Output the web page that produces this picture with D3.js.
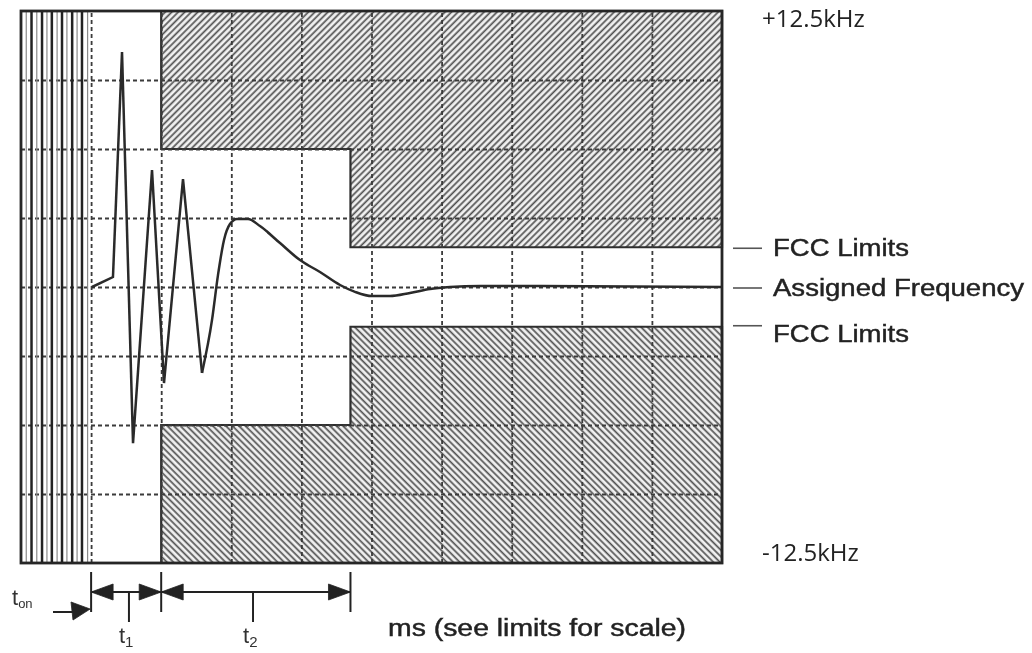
<!DOCTYPE html>
<html>
<head>
<meta charset="utf-8">
<script src="https://cdn.jsdelivr.net/npm/d3@7"></script>
<style>
  html, body { margin: 0; padding: 0; background: #fff; }
  svg { display: block; }
</style>
</head>
<body>
<svg id="chart" width="1032" height="653"></svg>
<script>
// Frequency transient of a transmitter at switch-on, against the FCC limit mask.
// Time in grid divisions (ms, see limits for scale); deviation in kHz.

const timeDivisions = [0, 10];
const freqRange = [-12.5, 12.5];

// dashed grid
const gridTimes = [1, 2, 3, 4, 5, 6, 7, 8, 9];
const gridFreqs = [-9.375, -6.25, -3.125, 0, 3.125, 6.25, 9.375];

// limit mask (step after each time)
const maskTimes = [2, 4.7, 10];
const maskUpper = [6.25, 1.8, 1.8];
const maskLower = [-6.25, -1.8, -1.8];

// switch-on interval (t_on) oscillation traces
const tonStrong = [0.15, 0.30, 0.44, 0.585, 0.73, 0.87];
const tonFaint = [0.075, 0.225, 0.37, 0.515, 0.655, 0.80, 0.95];

// oscillating burst (t1) and settling (t2)
const burstTimes = [1.013, 1.312, 1.441, 1.598, 1.869, 2.040, 2.311, 2.582];
const burstFreqs = [0, 0.45, 10.64, -7.07, 5.30, -4.35, 4.89, -3.89];
const settleTimes = [2.582, 2.725, 2.810, 2.896, 2.981, 3.081, 3.238, 3.409, 3.695, 3.980, 4.265, 4.551, 4.765, 5.007, 5.264, 5.549, 5.835, 6.120, 6.548, 7.118, 10];
const settleFreqs = [-3.89, -1.49, 0.54, 2.13, 2.85, 3.08, 3.08, 2.76, 1.99, 1.22, 0.68, 0.09, -0.22, -0.41, -0.41, -0.27, -0.09, 0, 0.05, 0.05, 0];

// interval markers under the plot
const intervalEdges = [1, 2, 4.7];
const intervalNames = ["1", "2"];

// labels
const scaleLabels = ["+12.5kHz", "-12.5kHz"];
const legendLabels = ["FCC Limits", "Assigned Frequency", "FCC Limits"];
const legendFreqs = [1.8, 0, -1.8];
const axisNote = "ms (see limits for scale)";

const svg = d3.select("#chart");
const x = d3.scaleLinear().domain(timeDivisions).range([21, 722]);
const y = d3.scaleLinear().domain(freqRange).range([563, 11]);

const defs = svg.append("defs");
defs.append("filter").attr("id", "soft")
  .append("feGaussianBlur").attr("stdDeviation", 0.45);

function hatch(id, angle) {
  const p = defs.append("pattern").attr("id", id)
    .attr("patternUnits", "userSpaceOnUse")
    .attr("width", 4.6).attr("height", 4.6)
    .attr("patternTransform", `rotate(${angle})`);
  p.append("rect").attr("width", 4.6).attr("height", 4.6).attr("fill", "#f2f2f2");
  p.append("line").attr("x1", 1.2).attr("x2", 1.2).attr("y1", -1).attr("y2", 6)
    .attr("stroke", "#505050").attr("stroke-width", 1.7);
}
hatch("hatchUp", 45);
hatch("hatchDown", -45);

const g = svg.append("g").attr("filter", "url(#soft)");

// limit mask regions
const maskPts = maskTimes.map((t, i) => ({ t, hi: maskUpper[i], lo: maskLower[i] }));
const upperArea = d3.area().curve(d3.curveStepAfter)
  .x(d => x(d.t)).y0(y(freqRange[1])).y1(d => y(d.hi));
const lowerArea = d3.area().curve(d3.curveStepAfter)
  .x(d => x(d.t)).y0(y(freqRange[0])).y1(d => y(d.lo));
g.append("path").attr("d", upperArea(maskPts))
  .attr("fill", "url(#hatchUp)").attr("stroke", "#2e2e2e").attr("stroke-width", 2.2);
g.append("path").attr("d", lowerArea(maskPts))
  .attr("fill", "url(#hatchDown)").attr("stroke", "#2e2e2e").attr("stroke-width", 2.2);

// dashed grid through the axes
const h = y.range()[0] - y.range()[1];
const w = x.range()[1] - x.range()[0];
const gx = g.append("g").attr("transform", `translate(0,${y(freqRange[0])})`)
  .call(d3.axisBottom(x).tickValues(gridTimes).tickSize(-h).tickFormat(""));
const gy = g.append("g").attr("transform", `translate(${x(timeDivisions[0])},0)`)
  .call(d3.axisLeft(y).tickValues(gridFreqs).tickSize(-w).tickFormat(""));
[gx, gy].forEach(a => {
  a.select(".domain").remove();
  a.selectAll(".tick line").attr("stroke", "#3a3a3a").attr("stroke-width", 1.8)
    .attr("stroke-dasharray", "4,3");
});

// t_on traces
g.selectAll("line.faint").data(tonFaint).join("line").attr("class", "faint")
  .attr("x1", d => x(d)).attr("x2", d => x(d))
  .attr("y1", y(freqRange[1])).attr("y2", y(freqRange[0]))
  .attr("stroke", "#8a8a8a").attr("stroke-width", 1.2);
g.selectAll("line.strong").data(tonStrong).join("line").attr("class", "strong")
  .attr("x1", d => x(d)).attr("x2", d => x(d))
  .attr("y1", y(freqRange[1])).attr("y2", y(freqRange[0]))
  .attr("stroke", "#222").attr("stroke-width", 2.5);

// frequency trace
const burst = burstTimes.map((t, i) => [t, burstFreqs[i]]);
const settle = settleTimes.map((t, i) => [t, settleFreqs[i]]);
g.append("path").attr("d", d3.line().x(d => x(d[0])).y(d => y(d[1]))(burst))
  .attr("fill", "none").attr("stroke", "#2a2a2a").attr("stroke-width", 2.5)
  .attr("stroke-linejoin", "miter");
g.append("path").attr("d", d3.line().curve(d3.curveMonotoneX).x(d => x(d[0])).y(d => y(d[1]))(settle))
  .attr("fill", "none").attr("stroke", "#2a2a2a").attr("stroke-width", 2.5);

// frame
g.append("rect").attr("x", x(0)).attr("y", y(freqRange[1]))
  .attr("width", w).attr("height", h)
  .attr("fill", "none").attr("stroke", "#262626").attr("stroke-width", 2.8);

const labelFont = "Liberation Sans, Arial, sans-serif";

// legend at the right edge
const legendTextDy = [9, 9, 15];
const legendDashDy = [1, 1, -1];
legendLabels.forEach((lab, i) => {
  const yy = y(legendFreqs[i]);
  g.append("line").attr("x1", 733).attr("x2", 762)
    .attr("y1", yy + legendDashDy[i]).attr("y2", yy + legendDashDy[i])
    .attr("stroke", "#555").attr("stroke-width", 1.6);
  g.append("text").attr("x", 773).attr("y", yy + legendTextDy[i])
    .attr("font-family", labelFont)
    .attr("font-size", 23.5).attr("fill", "#222")
    .attr("stroke", "#222").attr("stroke-width", 0.45)
    .attr("textLength", i === 1 ? 251 : 136).attr("lengthAdjust", "spacingAndGlyphs")
    .text(lab);
});

// interval markers
const ya = 592;
const mk = g.append("g").attr("stroke", "#222").attr("stroke-width", 2).attr("fill", "#222");
intervalEdges.forEach(t => {
  mk.append("line").attr("x1", x(t)).attr("x2", x(t)).attr("y1", 572).attr("y2", 612);
});
mk.append("line").attr("x1", x(intervalEdges[0])).attr("x2", x(intervalEdges[2]))
  .attr("y1", ya).attr("y2", ya);
function head(tip, dir) {
  const len = 22, hw = 8;
  mk.append("path").attr("stroke-width", 0.8)
    .attr("d", `M${tip},${ya} L${tip + dir * len},${ya - hw} L${tip + dir * len},${ya + hw} Z`);
}
head(x(intervalEdges[0]), 1);
head(x(intervalEdges[1]), -1);
head(x(intervalEdges[1]), 1);
head(x(intervalEdges[2]), -1);
const mids = [(intervalEdges[0] + intervalEdges[1]) / 2 + 0.04, (intervalEdges[1] + intervalEdges[2]) / 2 - 0.04];
mids.forEach(t => {
  mk.append("line").attr("x1", x(t)).attr("x2", x(t)).attr("y1", ya).attr("y2", 622);
});
// t_on pointer
mk.append("line").attr("x1", 53).attr("x2", 78).attr("y1", 612).attr("y2", 612);
mk.append("path").attr("stroke-width", 0.8)
  .attr("d", `M${x(intervalEdges[0]) - 1},609 L71,602 L73,620 Z`);

const ton = g.append("text").attr("x", 12).attr("y", 605)
  .attr("font-family", labelFont).attr("font-size", 22).attr("fill", "#333");
ton.append("tspan").text("t");
ton.append("tspan").attr("font-size", 13).attr("dy", 3).text("on");
mids.forEach((t, i) => {
  const tx = g.append("text").attr("x", x(t) - 10).attr("y", 643)
    .attr("font-family", labelFont).attr("font-size", 22).attr("fill", "#333");
  tx.append("tspan").text("t");
  tx.append("tspan").attr("font-size", 15).attr("dy", 4).text(intervalNames[i]);
});
g.append("text").attr("x", 388).attr("y", 636)
  .attr("font-family", labelFont).attr("font-size", 23.5).attr("fill", "#222")
  .attr("stroke", "#222").attr("stroke-width", 0.45)
  .attr("textLength", 298).attr("lengthAdjust", "spacingAndGlyphs")
  .text(axisNote);

// scale labels
svg.append("text").attr("x", 762).attr("y", 27)
  .attr("font-family", "Open Sans, sans-serif").attr("font-size", 24).attr("fill", "#222")
  .text(scaleLabels[0]);
svg.append("text").attr("x", 762).attr("y", 561)
  .attr("font-family", "Open Sans, sans-serif").attr("font-size", 24).attr("fill", "#222")
  .text(scaleLabels[1]);
</script>
</body>
</html>
